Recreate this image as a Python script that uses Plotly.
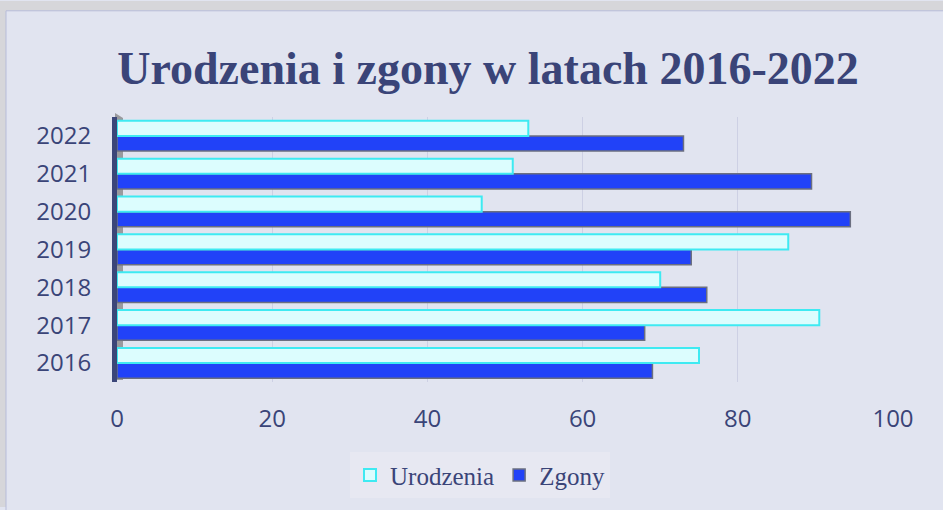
import plotly.graph_objects as go

years = ["2016", "2017", "2018", "2019", "2020", "2021", "2022"]
urodzenia = [75, 90.5, 70, 86.5, 47, 51, 53]
zgony = [69, 68, 76, 74, 94.5, 89.5, 73]
x_ticks = [0, 20, 40, 60, 80, 100]

W, H = 943, 510
L, R, T, B = 117, 50, 117, 126

TEXT = "#3a4478"
BG = "#e1e4f0"


def px(x):
    return (x - L) / (W - L - R)


def py(y):
    return 1 - (y - T) / (H - T - B)


fig = go.Figure()
fig.add_trace(go.Bar(
    y=years, x=zgony, name="Zgony", orientation="h",
    marker=dict(color="#2142f8", line=dict(color="#6b6f80", width=1.5)),
    legendrank=2,
))
fig.add_trace(go.Bar(
    y=years, x=urodzenia, name="Urodzenia", orientation="h",
    marker=dict(color="#dcfdfe", line=dict(color="#3eeaf2", width=2)),
    legendrank=1,
))

# outer dotted frame and chart area
fig.add_shape(type="rect", xref="paper", yref="paper", layer="below",
              x0=px(0), x1=px(W), y0=py(0), y1=py(H),
              fillcolor="#d6d6da", line=dict(width=0))
fig.add_shape(type="rect", xref="paper", yref="paper", layer="below",
              x0=px(6), x1=px(W + 5), y0=py(10), y1=py(H + 5),
              fillcolor=BG, line=dict(color="#b7bcd9", width=1))
# grey side wall of the 3d axis
fig.add_shape(type="path", xref="paper", yref="paper", layer="below",
              path=f"M {px(115)},{py(113)} L {px(123)},{py(118)} L {px(123)},{py(382)} L {px(115)},{py(382)} Z",
              fillcolor="#9a9a9e", line=dict(width=0))

fig.update_layout(
    width=W, height=H,
    margin=dict(l=L, r=R, t=T, b=B),
    paper_bgcolor=BG, plot_bgcolor="rgba(0,0,0,0)",
    barmode="group", bargap=0.2, bargroupgap=0.0,
    title=dict(text="<b>Urodzenia i zgony w latach 2016-2022</b>",
               x=488 / W, xanchor="center", y=1 - 68 / H, yanchor="middle",
               font=dict(family="Liberation Serif, serif", size=46, color=TEXT)),
    legend=dict(orientation="h", x=px(480), xanchor="center", y=py(478), yanchor="middle",
                bgcolor="#e7e8f2", font=dict(family="Liberation Serif, serif", size=25, color=TEXT),
                itemwidth=30, tracegroupgap=0),
    font=dict(family="Open Sans, sans-serif", color=TEXT),
)
fig.update_xaxes(range=[0, 100], tickvals=x_ticks, showgrid=True, gridcolor="#cdd0e4",
                 zeroline=False, showline=False, ticks="", ticklabelstandoff=20,
                 tickfont=dict(size=24, color=TEXT))
fig.update_yaxes(range=[-0.5, 6.5], showline=True, linecolor="#3b4679", linewidth=5,
                 ticks="", ticklabelstandoff=16, tickfont=dict(size=24, color=TEXT))

fig.write_html("out.html", config={"displayModeBar": False},
               post_script="document.body.style.margin='0';")
